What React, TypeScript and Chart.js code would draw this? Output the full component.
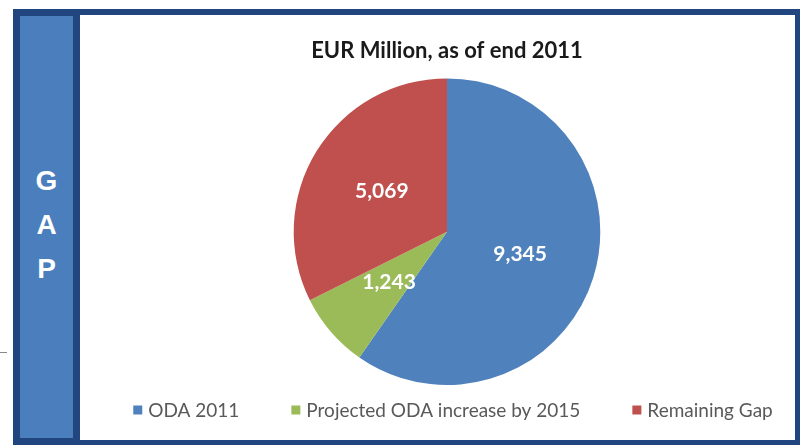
import React, { useEffect, useRef } from "react";
import { Chart, registerables } from "chart.js";

Chart.register(...registerables);

const categories = ["ODA 2011", "Projected ODA increase by 2015", "Remaining Gap"];
const values = [9345, 1243, 5069];
const sliceColors = ["#4F81BD", "#9BBB59", "#C0504D"];
const titleText = "EUR Million, as of end 2011";
const sideLetters = ["G", "A", "P"];

const DARK = "#21457f";
const SIDE = "#4a7ebd";

const valueLabelPlugin = {
  id: "valueLabels",
  afterDatasetsDraw(chart: any) {
    const ctx = chart.ctx;
    const meta = chart.getDatasetMeta(0);
    ctx.save();
    ctx.font = "bold 21px Lato";
    ctx.fillStyle = "#ffffff";
    ctx.textAlign = "center";
    ctx.textBaseline = "middle";
    meta.data.forEach((arc: any, i: number) => {
      const p = arc.tooltipPosition();
      ctx.fillText(values[i].toLocaleString("en-US"), p.x, p.y);
    });
    ctx.restore();
  },
};

const bottomLegendPlugin = {
  id: "bottomLegend",
  afterDraw(chart: any) {
    const ctx = chart.ctx;
    const area = chart.chartArea;
    const box = 9;
    const boxGap = 6;
    const itemGap = 52;
    ctx.save();
    ctx.font = "19px Lato";
    const widths = categories.map((c) => ctx.measureText(c).width);
    const total =
      widths.reduce((a, b) => a + b, 0) + categories.length * (box + boxGap) + itemGap * (categories.length - 1);
    let x = (area.left + area.right) / 2 + 6 - total / 2;
    const y = area.bottom + 25;
    ctx.textBaseline = "middle";
    ctx.textAlign = "left";
    categories.forEach((c, i) => {
      ctx.fillStyle = sliceColors[i];
      ctx.fillRect(x, y - box / 2, box, box);
      x += box + boxGap;
      ctx.fillStyle = "#595959";
      ctx.fillText(c, x, y + 1);
      x += widths[i] + itemGap;
    });
    ctx.restore();
  },
};

function PieChart() {
  const ref = useRef<HTMLCanvasElement | null>(null);
  useEffect(() => {
    if (!ref.current) return;
    const chart = new Chart(ref.current, {
      type: "pie",
      data: {
        labels: categories,
        datasets: [
          {
            data: values,
            backgroundColor: sliceColors,
            borderWidth: 0,
          },
        ],
      },
      options: {
        animation: false,
        responsive: false,
        layout: { padding: { left: 20, top: 19, bottom: 55, right: 0 } },
        plugins: {
          legend: { display: false },
          tooltip: { enabled: false },
          title: {
            display: true,
            text: titleText,
            color: "#1a1a1a",
            font: { family: "Lato", size: 22, weight: "bold" },
            padding: { top: 4, bottom: 14 },
          },
        },
      },
      plugins: [valueLabelPlugin, bottomLegendPlugin],
    });
    return () => chart.destroy();
  }, []);
  return <canvas ref={ref} width={714} height={425} style={{ display: "block", width: 714, height: 425 }} />;
}

export default function App() {
  return (
    <div
      style={{
        position: "absolute",
        left: 0,
        top: 0,
        width: 800,
        height: 447,
        background: "#ffffff",
        overflow: "hidden",
      }}
    >
      <div style={{ position: "absolute", left: 13, top: 9, width: 787, height: 6, background: DARK }} />
      <div style={{ position: "absolute", left: 795, top: 9, width: 5, height: 436, background: DARK }} />
      <div style={{ position: "absolute", left: 13, top: 440, width: 787, height: 5, background: DARK }} />
      <div
        style={{
          position: "absolute",
          left: 13,
          top: 9,
          width: 67,
          height: 436,
          background: SIDE,
          border: `7px solid ${DARK}`,
          boxSizing: "border-box",
        }}
      />
      <div
        style={{
          position: "absolute",
          left: 13,
          top: 159,
          width: 67,
          textAlign: "center",
          color: "#ffffff",
          fontFamily: "'Liberation Sans', Arial, sans-serif",
          fontWeight: "bold",
          fontSize: 28,
          lineHeight: "44px",
        }}
      >
        {sideLetters.map((l) => (
          <div key={l}>{l}</div>
        ))}
      </div>
      <div style={{ position: "absolute", left: 0, top: 352, width: 7, height: 1, background: "#888888" }} />
      <div style={{ position: "absolute", left: 80, top: 15 }}>
        <PieChart />
      </div>
    </div>
  );
}
